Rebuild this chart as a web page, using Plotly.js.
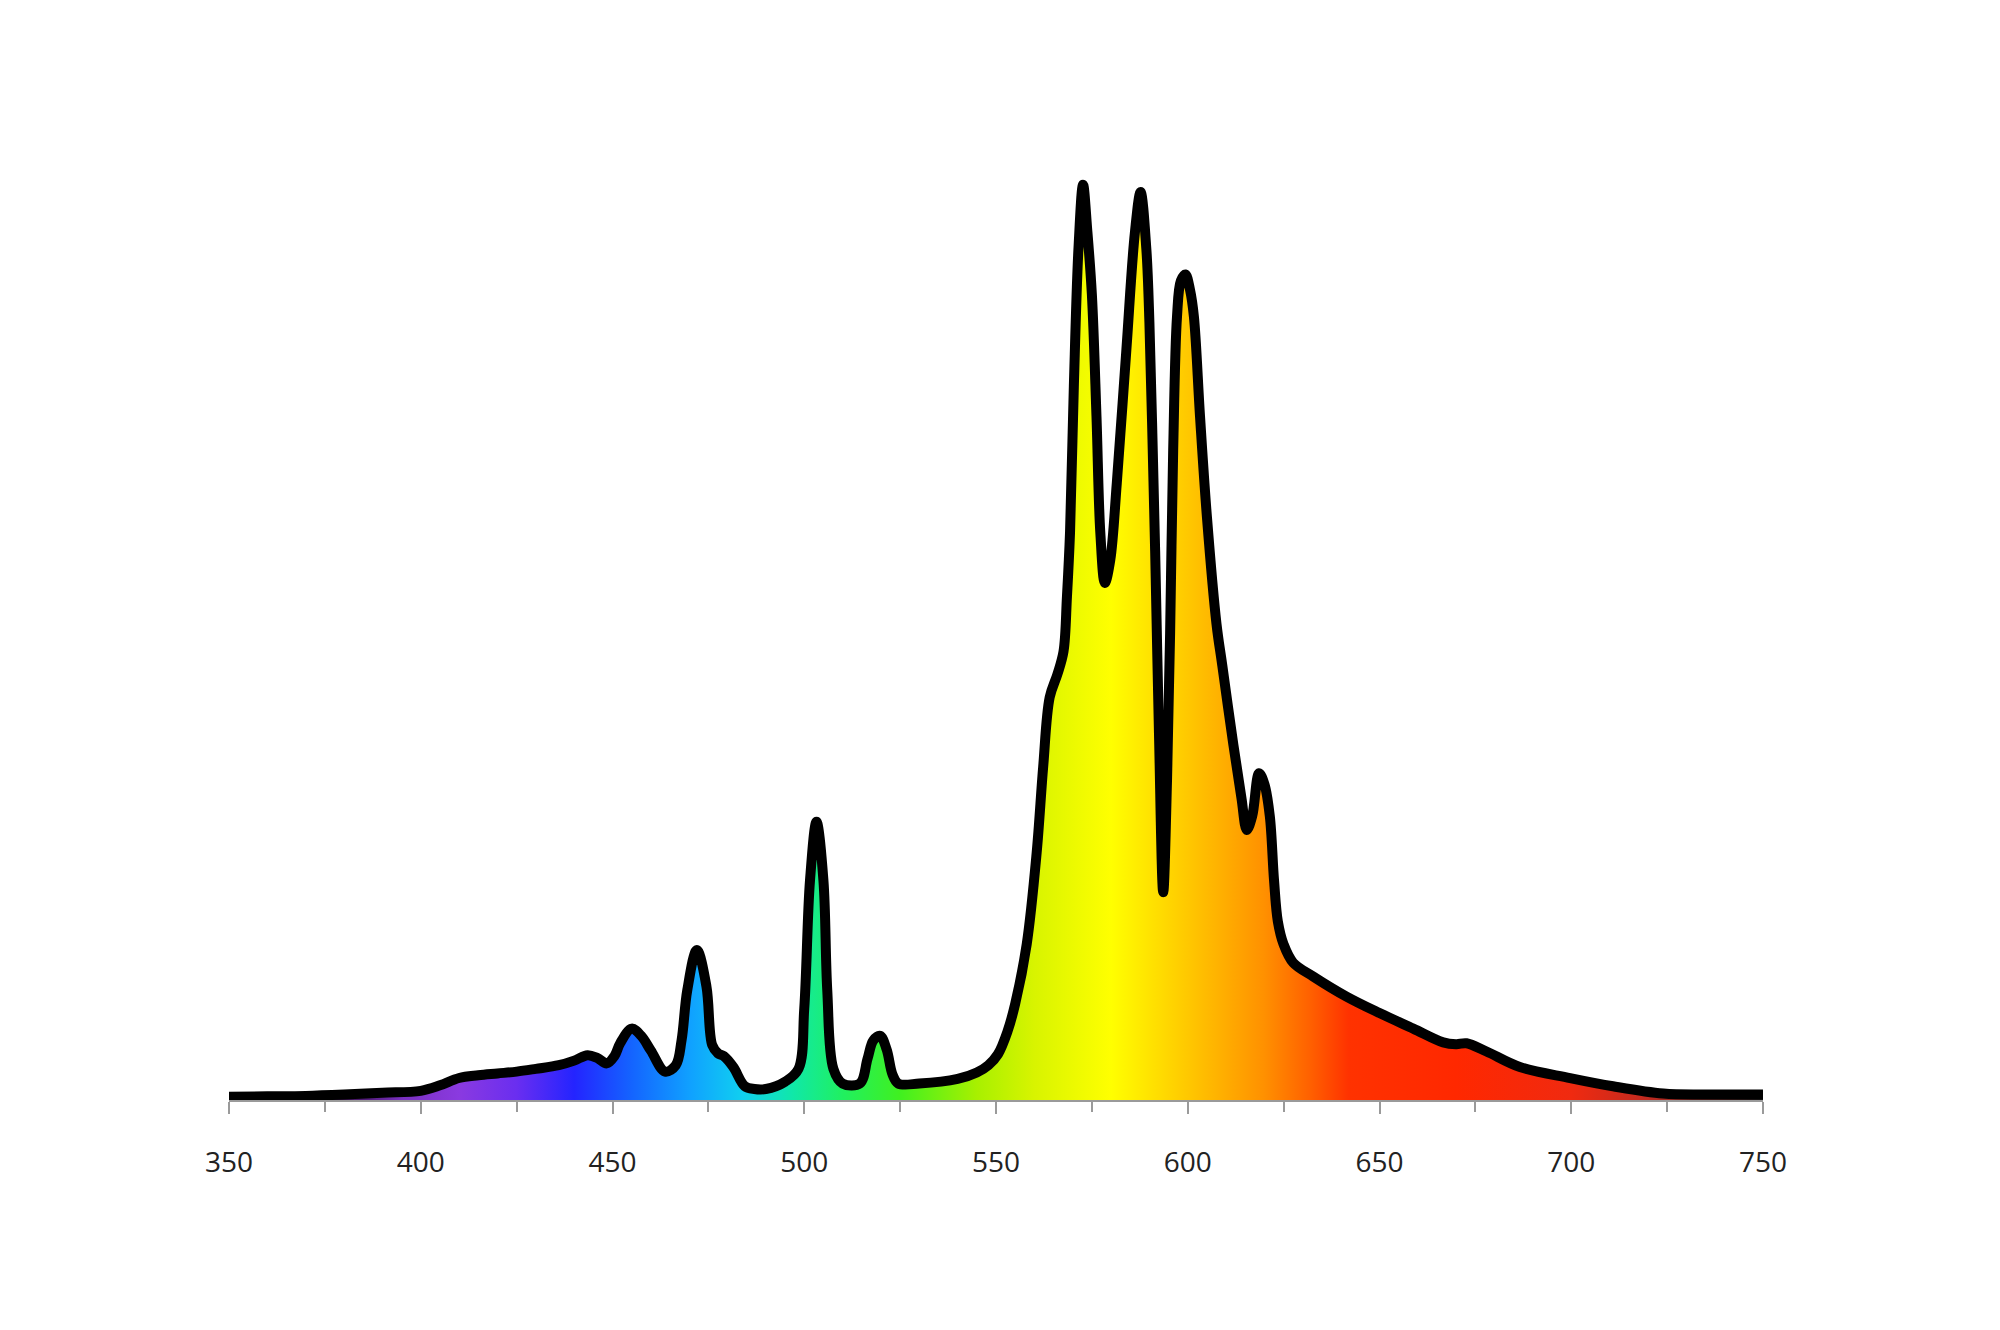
<!DOCTYPE html>
<html>
<head>
<meta charset="utf-8">
<script src="https://cdn.plot.ly/plotly-3.0.1.min.js"></script>
<style>html,body{margin:0;padding:0;background:#fff;}#chart{width:2000px;height:1330px;}</style>
</head>
<body>
<div id="chart"></div>
<script>
// Wavelength (nm)
const wavelengths = [350,360,370,380,390,400,405,410,415,420,425,430,436,440,443.5,446,448.5,450.5,452,455,457.5,460,463.7,466.5,468,469.5,472,474.5,476,477.5,479,481.5,484.5,487,490,495,498.5,500,501.5,503.2,505,506,507.6,510,514.5,516.5,518,519.8,521.5,523,524.5,530,540,545,548,550.5,553,555,558,560.6,562.3,564,566,567.6,568.5,569.3,570.3,571.5,572.7,573.8,575,576.2,577.2,578.4,579.8,581.5,584,586.2,587.7,589.2,590,590.7,591.5,592.5,593.6,594.6,595.4,596.2,597.2,598.2,599.4,600.6,601.6,603.2,605,607.5,609,611.9,614,615.4,616.8,618.6,620,621.4,622.5,623.5,625,627.5,632.7,641.4,650,658.8,666.6,670,672.7,677.9,686.6,699.7,710.9,724,735,750];
// Relative intensity (peak = 100)
const intensity = [0.35,0.4,0.45,0.6,0.8,1.0,1.6,2.4,2.7,2.9,3.1,3.4,3.8,4.3,4.9,4.6,4.0,4.8,6.2,7.8,7.0,5.4,3.1,3.8,6.5,12.0,16.4,12.4,6.0,5.1,4.8,3.6,1.5,1.2,1.2,2.0,3.4,10,24,30.4,24,12,3.4,1.8,1.8,4.5,6.5,7.0,5.5,2.8,1.8,1.8,2.3,3.0,3.8,5.0,7.5,10.5,17.0,27,36.4,44,46.5,49,55,62,78,93,100,95,88,74.7,62,56.5,59,67.4,82,94.7,99.2,93,85,74,60,40,22.7,35,51,71,85.6,89.5,90.2,88.5,85.6,74.7,63.7,52,47.5,38.8,33,29.5,31,35.7,34.5,31,24,19.5,17,15,13.5,11.3,9.5,7.8,6.3,6.1,6.2,5.3,3.6,2.4,1.5,0.7,0.6,0.6];
// Spectrum colours by wavelength
const colorStops = [350,380,395,410,425,440,455,470,484,497,510,525,545,560,580,600,620,632,642,670,700,720,750];
const colorValues = ['#1a0a2a','#3a1050','#7a30c0','#8a3ae0','#6a2ef0','#2424ff','#1464ff','#10a0ff','#10d0f0','#10e8a8','#20f060','#40f020','#a8f000','#d8f400','#ffff00','#ffc800','#ff9000','#ff6000','#ff3200','#ff2800','#f02a10','#c02a20','#202020'];
const tickVals = [350,400,450,500,550,600,650,700,750];
const tickLabels = ['350','400','450','500','550','600','650','700','750'];

const xMin = 350, xMax = 750;
const colorscale = colorStops.map((w,i)=>[(w-xMin)/(xMax-xMin), colorValues[i]]);

const trace = {
  type: 'scatter',
  mode: 'lines',
  x: wavelengths,
  y: intensity,
  fill: 'tozeroy',
  fillgradient: {type: 'horizontal', start: xMin, stop: xMax, colorscale: colorscale},
  line: {color: '#000000', width: 10, shape: 'spline', smoothing: 1.0},
  hoverinfo: 'skip',
  showlegend: false
};

const layout = {
  width: 2000, height: 1330,
  margin: {l: 229, r: 237, t: 139, b: 230},
  paper_bgcolor: '#ffffff', plot_bgcolor: '#ffffff',
  showlegend: false,
  xaxis: {
    range: [xMin, xMax],
    tickmode: 'array', tickvals: tickVals, ticktext: tickLabels,
    ticks: 'outside', ticklen: 12, tickwidth: 2, tickcolor: '#9a9a9a',
    showline: true, linecolor: '#9a9a9a', linewidth: 2,
    showgrid: false, zeroline: false,
    minor: {dtick: 25, tick0: 350, ticks: 'outside', ticklen: 10, tickwidth: 2, tickcolor: '#9a9a9a', showgrid: false},
    tickfont: {family: 'Open Sans, DejaVu Sans, sans-serif', size: 28, color: '#222222'},
    ticklabelstandoff: 24
  },
  yaxis: {range: [0, 105], visible: false, showgrid: false, zeroline: false}
};

Plotly.newPlot('chart', [trace], layout, {displayModeBar: false, staticPlot: true});
</script>
</body>
</html>
